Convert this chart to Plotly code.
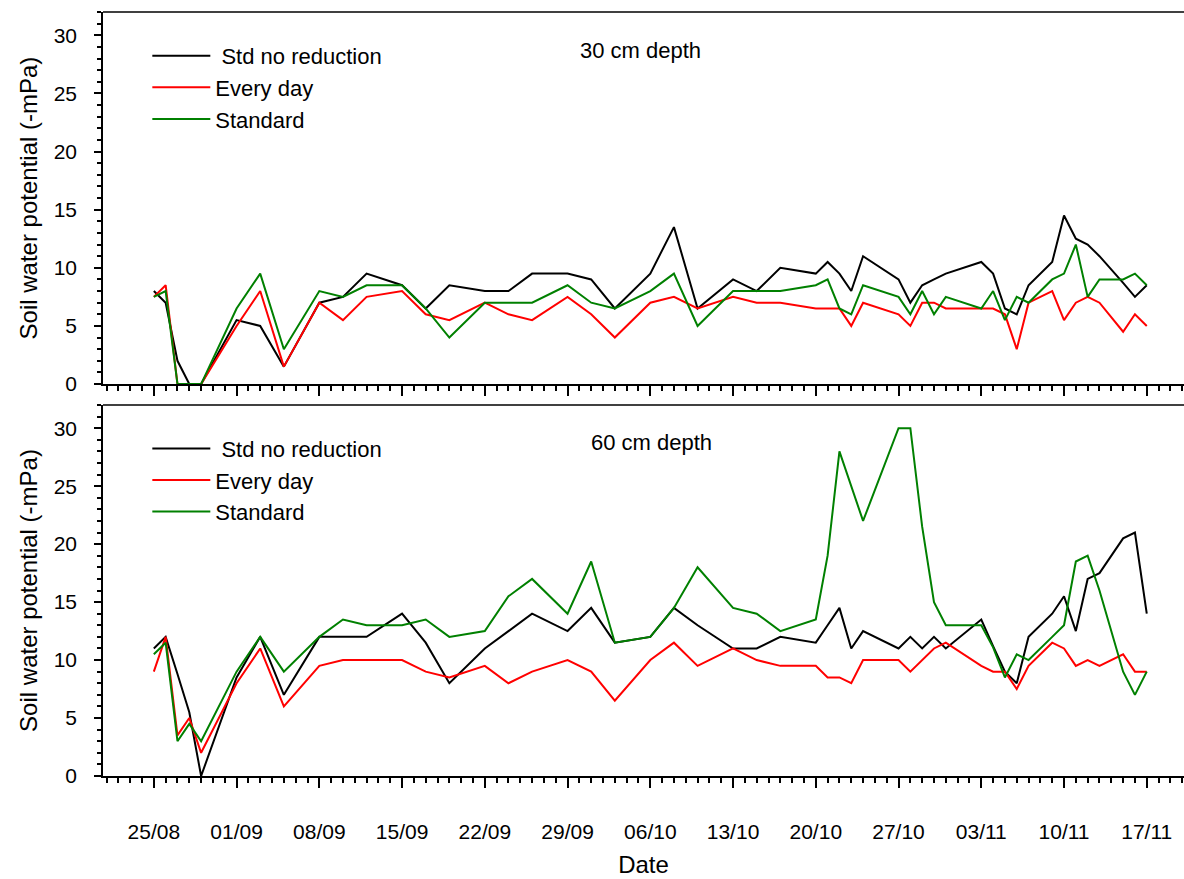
import pandas as pd
import plotly.graph_objects as go
from plotly.subplots import make_subplots

# ---- data -------------------------------------------------------------
dates = ["2012-08-25", "2012-08-26", "2012-08-27", "2012-08-28", "2012-08-29",
         "2012-09-01", "2012-09-03", "2012-09-05", "2012-09-08", "2012-09-10",
         "2012-09-12", "2012-09-15", "2012-09-17", "2012-09-19", "2012-09-22",
         "2012-09-24", "2012-09-26", "2012-09-29", "2012-10-01", "2012-10-03",
         "2012-10-06", "2012-10-08", "2012-10-10", "2012-10-13", "2012-10-15",
         "2012-10-17", "2012-10-20", "2012-10-21", "2012-10-22", "2012-10-23",
         "2012-10-24", "2012-10-27", "2012-10-28", "2012-10-29", "2012-10-30",
         "2012-10-31", "2012-11-03", "2012-11-04", "2012-11-05", "2012-11-06",
         "2012-11-07", "2012-11-09", "2012-11-10", "2012-11-11", "2012-11-12",
         "2012-11-13", "2012-11-15", "2012-11-16", "2012-11-17"]

series_names = ["\u00a0Std no reduction", "Every day", "Standard"]
series_colors = ["#000000", "#ff0000", "#008000"]

# 30 cm depth
d30_std_no_red = [8.0, 7.0, 2.0, 0, 0, 5.5, 5.0, 1.5, 7.0, 7.5, 9.5, 8.5, 6.5, 8.5, 8.0,
                  8.0, 9.5, 9.5, 9.0, 6.5, 9.5, 13.5, 6.5, 9.0, 8.0, 10.0, 9.5, 10.5, 9.5, 8.0,
                  11.0, 9.0, 7.0, 8.5, 9.0, 9.5, 10.5, 9.5, 6.5, 6.0, 8.5, 10.5, 14.5, 12.5, 12.0,
                  11.0, 8.7, 7.5, 8.5]
d30_every_day = [7.5, 8.5, 0, 0, 0, 5.0, 8.0, 1.5, 7.0, 5.5, 7.5, 8.0, 6.0, 5.5, 7.0,
                 6.0, 5.5, 7.5, 6.0, 4.0, 7.0, 7.5, 6.5, 7.5, 7.0, 7.0, 6.5, 6.5, 6.5, 5.0,
                 7.0, 6.0, 5.0, 7.0, 7.0, 6.5, 6.5, 6.5, 6.0, 3.0, 7.0, 8.0, 5.5, 7.0, 7.5,
                 7.0, 4.5, 6.0, 5.0]
d30_standard = [7.5, 8.0, 0, 0, 0, 6.5, 9.5, 3.0, 8.0, 7.5, 8.5, 8.5, 6.5, 4.0, 7.0,
                7.0, 7.0, 8.5, 7.0, 6.5, 8.0, 9.5, 5.0, 8.0, 8.0, 8.0, 8.5, 9.0, 6.5, 6.0,
                8.5, 7.5, 6.0, 8.0, 6.0, 7.5, 6.5, 8.0, 5.5, 7.5, 7.0, 9.0, 9.5, 12.0, 7.5,
                9.0, 9.0, 9.5, 8.5]

# 60 cm depth
d60_std_no_red = [11.0, 12.0, 8.8, 5.5, 0, 8.5, 12.0, 7.0, 12.0, 12.0, 12.0, 14.0, 11.5, 8.0, 11.0,
                  12.5, 14.0, 12.5, 14.5, 11.5, 12.0, 14.5, 13.0, 11.0, 11.0, 12.0, 11.5, 13.0, 14.5, 11.0,
                  12.5, 11.0, 12.0, 11.0, 12.0, 11.0, 13.5, 11.2, 9.0, 8.0, 12.0, 14.0, 15.5, 12.5, 17.0,
                  17.5, 20.5, 21.0, 14.0]
d60_every_day = [9.0, 12.0, 3.5, 5.0, 2.0, 8.0, 11.0, 6.0, 9.5, 10.0, 10.0, 10.0, 9.0, 8.5, 9.5,
                 8.0, 9.0, 10.0, 9.0, 6.5, 10.0, 11.5, 9.5, 11.0, 10.0, 9.5, 9.5, 8.5, 8.5, 8.0,
                 10.0, 10.0, 9.0, 10.0, 11.0, 11.5, 9.5, 9.0, 9.0, 7.5, 9.5, 11.5, 11.0, 9.5, 10.0,
                 9.5, 10.5, 9.0, 9.0]
d60_standard = [10.5, 11.5, 3.0, 4.5, 3.0, 9.0, 12.0, 9.0, 12.0, 13.5, 13.0, 13.0, 13.5, 12.0, 12.5,
                15.5, 17.0, 14.0, 18.5, 11.5, 12.0, 14.5, 18.0, 14.5, 14.0, 12.5, 13.5, 19.0, 28.0, 25.0,
                22.0, 30.0, 30.0, 21.5, 15.0, 13.0, 13.0, 11.1, 8.5, 10.5, 10.0, 12.0, 13.0, 18.5, 19.0,
                16.0, 9.0, 7.0, 9.0]

panel_labels = ["30 cm depth", "60 cm depth"]
y_title = "Soil water potential (-mPa)"
x_title = "Date"

# ---- figure -----------------------------------------------------------
FONT = "Liberation Sans, Arial, sans-serif"
fig = make_subplots(rows=2, cols=1, shared_xaxes=True)

panels = [[d30_std_no_red, d30_every_day, d30_standard],
          [d60_std_no_red, d60_every_day, d60_standard]]
for r, vals in enumerate(panels, start=1):
    for i, v in enumerate(vals):
        fig.add_trace(go.Scatter(
            x=dates, y=v, mode="lines", name=series_names[i],
            line=dict(color=series_colors[i], width=2),
            legend="legend" if r == 1 else "legend2",
            legendgroup=f"g{r}{i}",
        ), row=r, col=1)

base = pd.Timestamp("2012-08-25")
xr = [base - pd.Timedelta(days=4.3), base + pd.Timedelta(days=87.15)]

xcommon = dict(
    type="date", range=xr, tick0="2012-08-25", dtick=7 * 86400000,
    tickformat="%d/%m", ticks="outside", ticklen=10, tickwidth=1.5,
    tickcolor="black", showline=True, linecolor="black", linewidth=1.5,
    showgrid=False, zeroline=False, automargin=False,
    minor=dict(dtick=86400000, ticks="outside", ticklen=5, tickwidth=1.5,
               tickcolor="black", showgrid=False),
    tickfont=dict(family=FONT, size=21, color="black"),
)
ycommon = dict(
    range=[0, 32], tick0=0, dtick=5, ticks="outside", ticklen=7, tickwidth=1.5,
    tickcolor="black", showline=True, linecolor="black", linewidth=1.5,
    showgrid=False, zeroline=False, automargin=False,
    minor=dict(dtick=1, ticks="outside", ticklen=4, tickwidth=1.5,
               tickcolor="black", showgrid=False),
    tickfont=dict(family=FONT, size=21, color="black"),
    ticklabelstandoff=13,
    title=dict(text=y_title, font=dict(family=FONT, size=24, color="black"),
               standoff=9),
)

fig.update_xaxes(**xcommon)
fig.update_xaxes(showticklabels=False, row=1, col=1)
fig.update_xaxes(ticklabelstandoff=26,
                 title=dict(text=x_title, font=dict(family=FONT, size=24, color="black"),
                            standoff=14), row=2, col=1)
fig.update_yaxes(**ycommon)
fig.update_yaxes(domain=[0.513, 1.0], row=1, col=1)
fig.update_yaxes(domain=[0.0, 0.4856], row=2, col=1)

# top frame lines of each panel
for yref in ["y domain", "y2 domain"]:
    fig.add_shape(type="line", xref="paper", yref=yref, x0=0, x1=1, y0=1, y1=1,
                  line=dict(color="black", width=1.5))

fig.add_annotation(text=panel_labels[0], xref="paper", yref="paper", x=0.497, y=0.950,
                   xanchor="center", yanchor="middle",
                   showarrow=False, font=dict(family=FONT, size=22, color="black"))
fig.add_annotation(text=panel_labels[1], xref="paper", yref="paper", x=0.507, y=0.436,
                   xanchor="center", yanchor="middle",
                   showarrow=False, font=dict(family=FONT, size=22, color="black"))

legcommon = dict(bgcolor="rgba(0,0,0,0)", borderwidth=0, xanchor="left", yanchor="top",
                 font=dict(family=FONT, size=22, color="black"), tracegroupgap=0,
                 itemwidth=58)
fig.update_layout(
    width=1184, height=879,
    margin=dict(l=103, r=0, t=12, b=103, autoexpand=False),
    paper_bgcolor="white", plot_bgcolor="white",
    showlegend=True,
    legend=dict(x=0.041, y=0.970, **legcommon),
    legend2=dict(x=0.041, y=0.456, **legcommon),
)

fig.write_html("out.html", config={"displayModeBar": False},
               post_script="document.body.style.margin='0';")
